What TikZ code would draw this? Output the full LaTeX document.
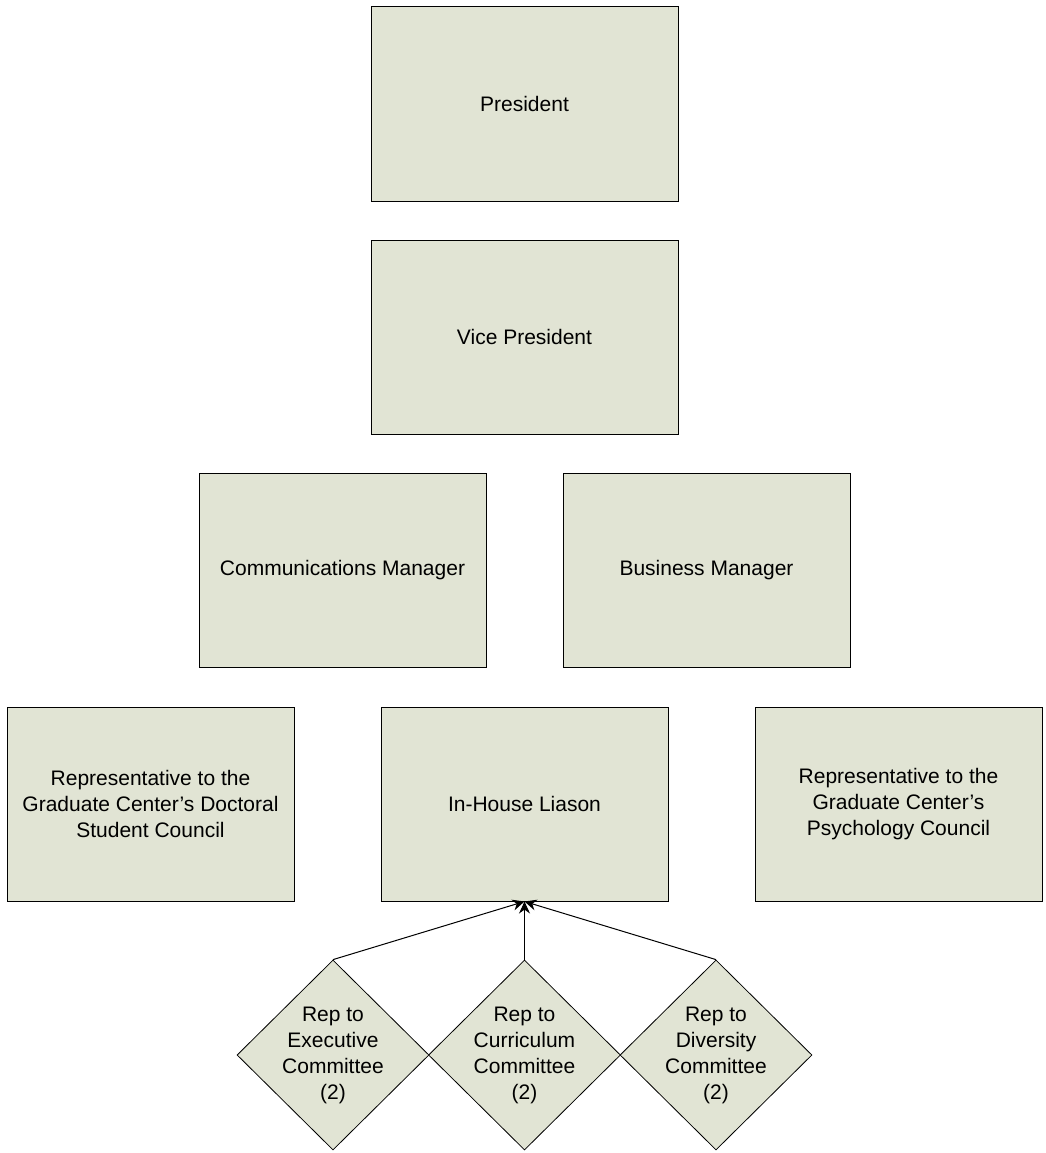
\documentclass[tikz,border=0pt]{standalone}
\usepackage{fontspec}
\setmainfont{Liberation Sans}
\usetikzlibrary{shapes.geometric,arrows.meta}
\definecolor{boxfill}{HTML}{E1E4D4}
\begin{document}
\begin{tikzpicture}[x=1pt,y=-1pt,
  box/.style={draw=black,fill=boxfill,line width=1pt,minimum width=287pt,minimum height=194pt,
    inner sep=0pt,align=center,font=\fontsize{21}{26}\selectfont},
  dia/.style={draw=black,fill=boxfill,line width=0.8pt,shape=diamond,minimum width=192pt,
    minimum height=190pt,inner sep=0pt},
  dtext/.style={align=center,font=\fontsize{21}{26}\selectfont,inner sep=0pt},
  conn/.style={line width=1pt,-{Stealth[length=12pt,width=11pt]}}]
\useasboundingbox (0,0) rectangle (1045,1153);
\node[box,minimum width=307pt] (pres) at (524.5,104) {President};
\node[box,minimum width=307pt] (vp) at (524.5,337) {Vice President};
\node[box] (comm) at (342.5,570) {Communications Manager};
\node[box] (bus) at (706.5,570) {Business Manager};
\node[box] (dsc) at (150.5,804) {Representative to the\\Graduate Center's Doctoral\\Student Council};
\node[box] (ihl) at (524.5,804) {In-House Liason};
\node[box] (psy) at (898.5,804) {Representative to the\\Graduate Center's\\Psychology Council};
\node[dia] (exe) at (333,1055) {};
\node[dia] (cur) at (524.5,1055) {};
\node[dia] (div) at (716,1055) {};
\node[dtext] (exet) at (333,1055) {Rep to\\Executive\\Committee\\(2)};
\node[dtext] (curt) at (524.5,1055) {Rep to\\Curriculum\\Committee\\(2)};
\node[dtext] (divt) at (716,1055) {Rep to\\Diversity\\Committee\\(2)};
\draw[conn] (exe.north) -- (ihl.south);
\draw[conn] (cur.north) -- (ihl.south);
\draw[conn] (div.north) -- (ihl.south);
\end{tikzpicture}
\end{document}
